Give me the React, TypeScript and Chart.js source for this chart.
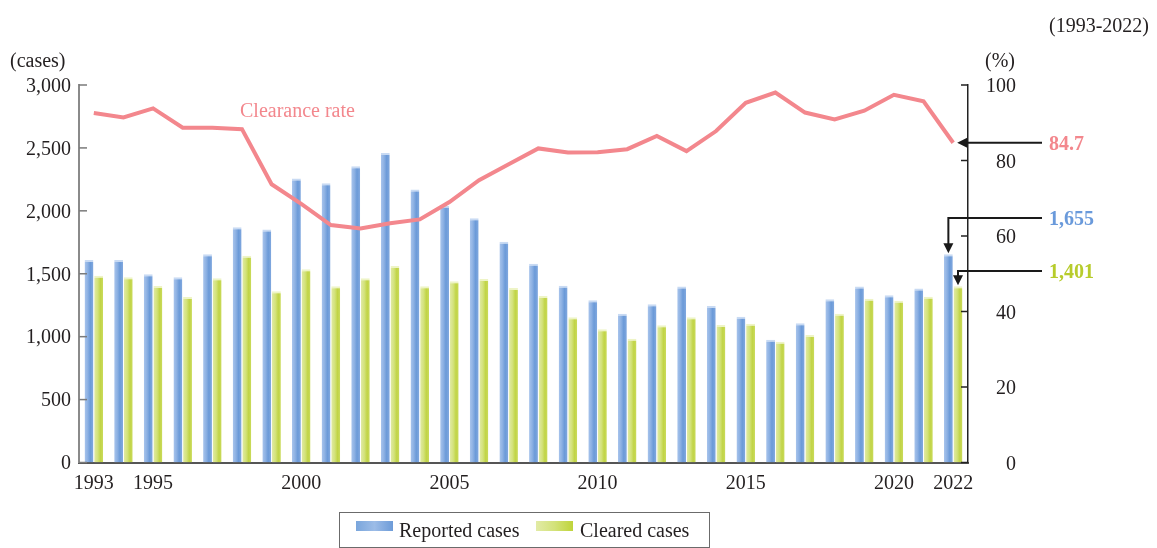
import React, { useEffect, useRef } from 'react';
import { Chart, registerables } from 'chart.js';

Chart.register(...registerables);

const years = ['1993','1994','1995','1996','1997','1998','1999','2000','2001','2002','2003','2004','2005','2006','2007','2008','2009','2010','2011','2012','2013','2014','2015','2016','2017','2018','2019','2020','2021','2022'];
const shownYears = ['1993','1995','2000','2005','2010','2015','2020','2022'];

const reported = [1610,1610,1496,1472,1655,1870,1851,2256,2219,2354,2460,2169,2041,1941,1755,1580,1405,1289,1183,1257,1398,1244,1159,976,1106,1297,1398,1329,1382,1655];
const cleared = [1485,1472,1403,1316,1464,1644,1361,1536,1400,1464,1562,1400,1440,1459,1387,1324,1154,1059,984,1091,1154,1093,1103,960,1013,1183,1302,1286,1318,1401];
const clearanceRate = [92.6,91.4,93.8,88.7,88.7,88.3,73.7,68.5,62.9,62.0,63.4,64.4,69.0,74.8,79.0,83.2,82.1,82.2,83.0,86.5,82.5,87.8,95.3,98.0,92.7,90.9,93.2,97.4,95.7,84.7];

const leftTicks = { min: 0, max: 3000, step: 500 };
const rightTicks = { min: 0, max: 100, step: 20 };

const FONT = "'Liberation Serif', 'Times New Roman', serif";
const TEXT = '#231f20';
const PINK = '#F3878D';
const BLUE_TXT = '#6A9ADB';
const GREEN_TXT = '#B7CC2C';

const CAT_PCT = 0.65;
const BAR_PCT = 0.92;

const blueStops: [number, string][] = [[0, '#A8C4EC'], [0.35, '#8DB1E3'], [0.65, '#6B9AD8'], [1, '#82A9DF']];
const greenStops: [number, string][] = [[0, '#E0EAA4'], [0.4, '#D3E27A'], [0.7, '#C1D446'], [1, '#CADB5C']];

function barGradient(c: any, dsIndex: number, stops: [number, string][], fallback: string) {
  const chart = c.chart;
  const xs = chart.scales && chart.scales.x;
  if (!xs || c.dataIndex === undefined || !chart.chartArea) return fallback;
  const center = xs.getPixelForValue(c.dataIndex);
  const catW = (chart.chartArea.right - chart.chartArea.left) / years.length;
  const group = catW * CAT_PCT;
  const slot = group / 2;
  const barW = slot * BAR_PCT;
  const left = center - group / 2 + dsIndex * slot + (slot - barW) / 2;
  const g = chart.ctx.createLinearGradient(left, 0, left + barW, 0);
  stops.forEach(([o, col]) => g.addColorStop(o, col));
  return g;
}

function arrowHead(ctx: CanvasRenderingContext2D, x: number, y: number, dir: 'left' | 'down') {
  ctx.beginPath();
  if (dir === 'left') {
    ctx.moveTo(x, y);
    ctx.lineTo(x + 10, y - 5);
    ctx.lineTo(x + 10, y + 5);
  } else {
    ctx.moveTo(x, y);
    ctx.lineTo(x - 5, y - 10);
    ctx.lineTo(x + 5, y - 10);
  }
  ctx.closePath();
  ctx.fill();
}

const overlayPlugin = {
  id: 'overlay',
  afterDraw(chart: any) {
    const ctx: CanvasRenderingContext2D = chart.ctx;
    const { y, y1 } = chart.scales;
    const area = chart.chartArea;
    ctx.save();

    // inward tick marks
    ctx.lineWidth = 1.5;
    ctx.strokeStyle = '#7a7a7a';
    y.ticks.forEach((t: any) => {
      const py = y.getPixelForValue(t.value);
      ctx.beginPath();
      ctx.moveTo(area.left, py);
      ctx.lineTo(area.left + 8, py);
      ctx.stroke();
    });
    ctx.strokeStyle = '#222';
    y1.ticks.forEach((t: any) => {
      const py = y1.getPixelForValue(t.value);
      ctx.beginPath();
      ctx.moveTo(area.right, py);
      ctx.lineTo(area.right - 7, py);
      ctx.stroke();
    });

    // unit texts
    ctx.font = `20px ${FONT}`;
    ctx.fillStyle = TEXT;
    ctx.textBaseline = 'middle';
    ctx.textAlign = 'left';
    ctx.fillText('(cases)', 10, 62);
    ctx.fillText('(%)', 985, 62);
    ctx.textAlign = 'right';
    ctx.fillText('(1993-2022)', 1149, 27);

    // series label
    ctx.textAlign = 'left';
    ctx.fillStyle = PINK;
    ctx.fillText('Clearance rate', 240, 112);

    // annotations
    const last = years.length - 1;
    const lineMeta = chart.getDatasetMeta(2);
    const blueMeta = chart.getDatasetMeta(0);
    const greenMeta = chart.getDatasetMeta(1);
    const lp = lineMeta.data[last];
    const bp = blueMeta.data[last];
    const gp = greenMeta.data[last];
    const startX = 1042;

    ctx.strokeStyle = '#1a1a1a';
    ctx.fillStyle = '#1a1a1a';
    ctx.lineWidth = 2;

    // rate arrow
    const ry = lp.y;
    ctx.beginPath();
    ctx.moveTo(startX, ry);
    ctx.lineTo(lp.x + 12, ry);
    ctx.stroke();
    arrowHead(ctx, lp.x + 4, ry, 'left');

    // reported arrow
    const by = 218;
    ctx.beginPath();
    ctx.moveTo(startX, by);
    ctx.lineTo(bp.x, by);
    ctx.lineTo(bp.x, bp.y - 10);
    ctx.stroke();
    arrowHead(ctx, bp.x, bp.y - 1, 'down');

    // cleared arrow
    const gy = 271;
    ctx.beginPath();
    ctx.moveTo(startX, gy);
    ctx.lineTo(gp.x, gy);
    ctx.lineTo(gp.x, gp.y - 10);
    ctx.stroke();
    arrowHead(ctx, gp.x, gp.y - 1, 'down');

    ctx.font = `bold 20px ${FONT}`;
    ctx.textAlign = 'left';
    ctx.fillStyle = PINK;
    ctx.fillText(clearanceRate[last].toFixed(1), 1049, ry + 2);
    ctx.fillStyle = BLUE_TXT;
    ctx.fillText(reported[last].toLocaleString('en-US'), 1049, by + 1.5);
    ctx.fillStyle = GREEN_TXT;
    ctx.fillText(cleared[last].toLocaleString('en-US'), 1049, gy + 1.5);

    // legend
    ctx.lineWidth = 1;
    ctx.strokeStyle = '#6b6b6b';
    ctx.strokeRect(339.5, 512.5, 370, 35);
    const drawSwatch = (x: number, stops: [number, string][]) => {
      const g = ctx.createLinearGradient(x, 0, x + 37, 0);
      stops.forEach(([o, col]) => g.addColorStop(o, col));
      ctx.fillStyle = g;
      ctx.fillRect(x, 521, 37, 10);
    };
    drawSwatch(356, [[0, '#7AA6DC'], [0.5, '#9CBCE7'], [1, '#6D9BD8']]);
    drawSwatch(536, [[0, '#E2EBA6'], [0.5, '#D3E27A'], [1, '#BFD43A']]);
    ctx.font = `20px ${FONT}`;
    ctx.fillStyle = TEXT;
    ctx.textBaseline = 'middle';
    ctx.fillText('Reported cases', 399, 532);
    ctx.fillText('Cleared cases', 580, 532);

    ctx.restore();
  },
};

export default function App() {
  const ref = useRef<HTMLCanvasElement | null>(null);

  useEffect(() => {
    if (!ref.current) return;
    const chart = new Chart(ref.current, {
      type: 'bar',
      data: {
        labels: years,
        datasets: [
          {
            type: 'bar',
            label: 'Reported cases',
            data: reported,
            yAxisID: 'y',
            order: 1,
            backgroundColor: (c: any) => barGradient(c, 0, blueStops, '#7DA6DD'),
            borderColor: '#C8DAF3',
            borderWidth: { top: 2, left: 0, right: 0, bottom: 0 },
            borderSkipped: false,
            categoryPercentage: CAT_PCT,
            barPercentage: BAR_PCT,
          },
          {
            type: 'bar',
            label: 'Cleared cases',
            data: cleared,
            yAxisID: 'y',
            order: 1,
            backgroundColor: (c: any) => barGradient(c, 1, greenStops, '#CADB5C'),
            borderColor: '#EEF4C6',
            borderWidth: { top: 2, left: 0, right: 0, bottom: 0 },
            borderSkipped: false,
            categoryPercentage: CAT_PCT,
            barPercentage: BAR_PCT,
          },
          {
            type: 'line',
            label: 'Clearance rate',
            data: clearanceRate,
            yAxisID: 'y1',
            order: 0,
            borderColor: PINK,
            borderWidth: 4,
            pointRadius: 0,
            tension: 0,
            fill: false,
          },
        ],
      } as any,
      options: {
        responsive: false,
        animation: false,
        devicePixelRatio: 1,
        events: [],
        layout: { padding: { top: 85, left: 0, right: 141, bottom: 0 } },
        plugins: {
          legend: { display: false },
          tooltip: { enabled: false },
        },
        scales: {
          x: {
            grid: { display: false, drawTicks: false },
            border: { display: true, color: '#555', width: 2 },
            ticks: {
              autoSkip: false,
              maxRotation: 0,
              padding: 9,
              color: TEXT,
              font: { family: FONT, size: 20 },
              callback: (_v: any, i: number) => (shownYears.includes(years[i]) ? years[i] : ''),
            },
            afterFit: (s: any) => { s.height = 85.5; },
          },
          y: {
            position: 'left',
            min: leftTicks.min,
            max: leftTicks.max,
            grid: { display: false, drawTicks: false },
            border: { display: true, color: '#8a8a8a', width: 2 },
            ticks: {
              stepSize: leftTicks.step,
              padding: 8,
              labelOffset: 1.5,
              color: TEXT,
              font: { family: FONT, size: 20 },
              callback: (v: any) => Number(v).toLocaleString('en-US'),
            },
            afterFit: (s: any) => { s.width = 79; },
          },
          y1: {
            position: 'right',
            min: rightTicks.min,
            max: rightTicks.max,
            grid: { display: false, drawTicks: false },
            border: { display: true, color: '#222', width: 1.5 },
            ticks: {
              stepSize: rightTicks.step,
              crossAlign: 'far',
              labelOffset: 2,
              color: TEXT,
              font: { family: FONT, size: 20 },
            },
            afterFit: (s: any) => { s.width = 48; },
          },
        },
      } as any,
      plugins: [overlayPlugin],
    });
    return () => chart.destroy();
  }, []);

  return (
    <div style={{ position: 'fixed', left: 0, top: 0, width: 1157, height: 548, background: '#fff' }}>
      <canvas ref={ref} width={1157} height={548} style={{ display: 'block', width: 1157, height: 548 }} />
    </div>
  );
}
